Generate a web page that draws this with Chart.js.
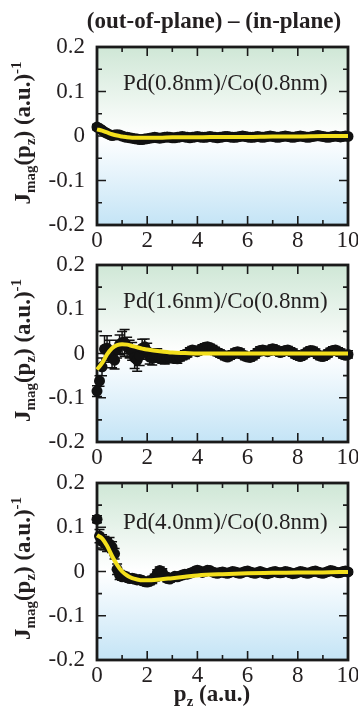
<!DOCTYPE html>
<html><head><meta charset="utf-8">
<script src="https://cdn.jsdelivr.net/npm/chart.js@4.4.1/dist/chart.umd.min.js"></script>
<style>
html,body{margin:0;padding:0;background:#fff;width:358px;height:707px;overflow:hidden}
canvas{position:absolute;left:0}
</style></head><body>
<script>
// ---------- DATA ----------
const pz = [0,0.1,0.2,0.3,0.4,0.5,0.6,0.7,0.8,0.9,1,1.1,1.2,1.3,1.4,1.5,1.6,1.7,1.8,1.9,2,2.1,2.2,2.3,2.4,2.5,2.6,2.7,2.8,2.9,3,3.1,3.2,3.3,3.4,3.5,3.6,3.7,3.8,3.9,4,4.1,4.2,4.3,4.4,4.5,4.6,4.7,4.8,4.9,5,5.1,5.2,5.3,5.4,5.5,5.6,5.7,5.8,5.9,6,6.1,6.2,6.3,6.4,6.5,6.6,6.7,6.8,6.9,7,7.1,7.2,7.3,7.4,7.5,7.6,7.7,7.8,7.9,8,8.1,8.2,8.3,8.4,8.5,8.6,8.7,8.8,8.9,9,9.1,9.2,9.3,9.4,9.5,9.6,9.7,9.8,9.9,10];

const jPd08 = [0.020,0.017,0.013,0.009,0.006,0.003,0.001,0.002,0.003,0.002,0.000,-0.002,-0.003,-0.004,-0.005,-0.006,-0.007,-0.008,-0.008,-0.007,-0.006,-0.005,-0.004,-0.003,-0.004,-0.005,-0.004,-0.003,-0.002,-0.003,-0.004,-0.004,-0.003,-0.002,-0.001,-0.002,-0.003,-0.004,-0.003,-0.002,-0.001,-0.002,-0.003,-0.003,-0.002,-0.001,-0.002,-0.003,-0.004,-0.003,-0.002,-0.001,-0.001,-0.002,-0.003,-0.003,-0.002,-0.001,0.000,-0.001,-0.002,-0.003,-0.003,-0.002,-0.001,-0.002,-0.003,-0.002,-0.001,0.000,-0.001,-0.002,-0.003,-0.002,-0.001,0.000,-0.001,-0.002,-0.003,-0.002,-0.001,0.000,-0.001,-0.002,-0.003,-0.002,-0.001,0.000,0.001,0.000,-0.001,-0.002,-0.003,-0.002,-0.001,0.000,-0.001,-0.002,-0.001,0.000,-0.001];
const ePd08 = [0.006,0.006,0.005,0.005,0.005,0.005,0.005,0.004,0.004,0.004,0.004,0.004,0.004,0.004,0.004,0.004,0.004,0.004,0.004,0.004,0.004,0.004,0.004,0.004,0.004,0.004,0.004,0.004,0.004,0.004,0.004,0.004,0.004,0.004,0.004,0.004,0.004,0.004,0.004,0.004,0.004,0.004,0.004,0.004,0.004,0.004,0.004,0.004,0.004,0.004,0.004,0.004,0.004,0.004,0.004,0.004,0.004,0.004,0.004,0.004,0.004,0.004,0.004,0.004,0.004,0.004,0.004,0.004,0.004,0.004,0.004,0.004,0.004,0.004,0.004,0.004,0.004,0.004,0.004,0.004,0.004,0.004,0.004,0.004,0.004,0.004,0.004,0.004,0.004,0.004,0.004,0.004,0.004,0.004,0.004,0.004,0.004,0.004,0.004,0.004,0.004];

const jPd16 = [-0.085,-0.062,-0.030,0.010,0.012,0.005,-0.010,-0.015,0.010,0.020,0.025,0.024,0.015,0.010,0.005,-0.010,-0.015,-0.005,0.012,0.015,0.005,-0.008,-0.010,-0.005,-0.003,-0.008,-0.010,-0.012,-0.010,-0.008,-0.010,-0.010,-0.012,-0.008,-0.005,-0.003,0.000,0.005,0.008,0.006,0.004,0.008,0.012,0.014,0.015,0.013,0.010,0.006,0.003,0.000,-0.003,-0.006,-0.008,-0.005,-0.002,0.002,0.004,0.002,-0.003,-0.006,-0.008,-0.009,-0.006,-0.002,0.003,0.007,0.008,0.006,0.004,0.008,0.011,0.009,0.005,0.002,0.004,0.007,0.008,0.005,0.002,-0.002,-0.005,-0.007,-0.004,0.000,0.004,0.007,0.006,0.002,-0.003,-0.006,-0.007,-0.004,0.000,0.004,0.007,0.008,0.005,0.002,-0.002,-0.004,-0.002];
const ePd16 = [0.012,0.012,0.020,0.030,0.028,0.025,0.022,0.020,0.020,0.022,0.025,0.030,0.022,0.020,0.020,0.024,0.025,0.022,0.020,0.018,0.018,0.016,0.016,0.014,0.014,0.012,0.012,0.012,0.011,0.011,0.010,0.010,0.010,0.009,0.009,0.009,0.008,0.008,0.008,0.008,0.008,0.008,0.008,0.008,0.008,0.008,0.008,0.008,0.008,0.008,0.008,0.008,0.008,0.008,0.008,0.008,0.008,0.008,0.008,0.008,0.008,0.008,0.008,0.008,0.008,0.008,0.008,0.008,0.008,0.008,0.008,0.008,0.008,0.008,0.008,0.008,0.008,0.008,0.008,0.008,0.008,0.008,0.008,0.008,0.008,0.008,0.008,0.008,0.008,0.008,0.008,0.008,0.008,0.008,0.008,0.008,0.008,0.008,0.008,0.008,0.008];

const jPd40 = [0.118,0.080,0.068,0.064,0.060,0.062,0.055,0.040,0.005,-0.008,-0.012,-0.010,-0.014,-0.016,-0.015,-0.017,-0.019,-0.018,-0.021,-0.023,-0.024,-0.022,-0.019,-0.014,-0.004,0.002,-0.002,-0.010,-0.016,-0.017,-0.014,-0.011,-0.012,-0.010,-0.008,-0.006,-0.006,-0.004,-0.002,0.001,0.003,0.001,-0.002,0.000,0.003,0.002,-0.001,-0.003,-0.004,-0.002,-0.001,-0.003,-0.004,-0.002,0.000,-0.001,-0.003,-0.004,-0.002,0.000,0.001,-0.001,-0.003,-0.004,-0.002,0.000,-0.002,-0.004,-0.005,-0.003,-0.001,0.000,-0.002,-0.003,-0.002,0.000,-0.001,-0.003,-0.005,-0.004,-0.002,0.000,-0.001,-0.003,-0.004,-0.002,0.000,0.001,-0.001,-0.003,-0.004,-0.002,0.000,0.002,0.001,-0.001,-0.003,-0.002,0.000,0.001,-0.001];
const ePd40 = [0.008,0.015,0.015,0.015,0.015,0.015,0.012,0.012,0.012,0.010,0.008,0.008,0.008,0.008,0.008,0.008,0.008,0.008,0.008,0.008,0.008,0.008,0.008,0.008,0.008,0.008,0.008,0.007,0.007,0.007,0.006,0.006,0.006,0.006,0.006,0.005,0.005,0.005,0.005,0.005,0.005,0.005,0.005,0.005,0.005,0.005,0.005,0.005,0.005,0.005,0.005,0.005,0.005,0.005,0.005,0.005,0.005,0.005,0.005,0.005,0.005,0.005,0.005,0.005,0.005,0.005,0.005,0.005,0.005,0.005,0.005,0.005,0.005,0.005,0.005,0.005,0.005,0.005,0.005,0.005,0.005,0.005,0.005,0.005,0.005,0.005,0.005,0.005,0.005,0.005,0.005,0.005,0.005,0.005,0.005,0.005,0.005,0.005,0.005,0.005,0.005];

const fitPz   = [0,0.2,0.4,0.6,0.8,1.0,1.2,1.4,1.6,1.8,2.0,2.5,3,3.5,4,5,6,7,8,9,10];
const fitPd08 = [0.015,0.012,0.008,0.004,0.001,-0.001,-0.003,-0.004,-0.004,-0.004,-0.004,-0.004,-0.003,-0.003,-0.003,-0.002,-0.002,-0.001,-0.001,0.000,0.000];
const fitPd16 = [-0.036,-0.022,-0.002,0.012,0.019,0.021,0.020,0.017,0.014,0.011,0.009,0.005,0.002,0.001,0.000,0.000,0.000,0.000,0.000,0.000,0.000];
const fitPd40 = [0.082,0.075,0.058,0.035,0.015,0.000,-0.009,-0.015,-0.018,-0.020,-0.020,-0.018,-0.015,-0.012,-0.009,-0.006,-0.004,-0.003,-0.002,-0.002,-0.001];

const xTicks = [0,2,4,6,8,10];
const xTickLabels = ['0','2','4','6','8','10'];
const xMinorTicks = [1,3,5,7,9];
const yTicks = [-0.2,-0.1,0,0.1,0.2];
const yTickLabels = ['-0.2','-0.1','0','0.1','0.2'];
const yMinorTicks = [-0.15,-0.05,0.05,0.15];
const sampleLabels = ['Pd(0.8nm)/Co(0.8nm)','Pd(1.6nm)/Co(0.8nm)','Pd(4.0nm)/Co(0.8nm)'];
const mainTitle = '(out-of-plane) \u2013 (in-plane)';

// ---------- DRAWING ----------
const FONT = "'Liberation Serif', 'Times New Roman', serif";
Chart.defaults.font.family = FONT;

const panels = [
  {top:0,   height:250, padTop:47, padBottom:0,  j:jPd08, e:ePd08, fit:fitPd08, label:sampleLabels[0], labelY:0.103, title:true,  xTitle:false},
  {top:250, height:217, padTop:15, padBottom:0,  j:jPd16, e:ePd16, fit:fitPd16, label:sampleLabels[1], labelY:0.103, title:false, xTitle:false},
  {top:467, height:240, padTop:16, padBottom:22, j:jPd40, e:ePd40, fit:fitPd40, label:sampleLabels[2], labelY:0.095, title:false, xTitle:true}
];

function drawParts(ctx, parts, x0, y0, align) {
  let total = 0;
  parts.forEach(p => { ctx.font = p.f; total += ctx.measureText(p.t).width; });
  let x = align === 'center' ? x0 - total/2 : x0;
  parts.forEach(p => { ctx.font = p.f; ctx.fillText(p.t, x, y0 + (p.dy||0)); x += ctx.measureText(p.t).width; });
}

const panelPlugin = {
  id: 'panel',
  beforeDatasetsDraw(chart, args, opts) {
    const {ctx, chartArea: a, scales: {x, y}} = chart;
    const p = opts.panel;
    ctx.save();
    const z = (y.getPixelForValue(0) - a.top) / (a.bottom - a.top);
    const g = ctx.createLinearGradient(0, a.top, 0, a.bottom);
    g.addColorStop(0, '#cfe7d6');
    g.addColorStop(z, '#ffffff');
    g.addColorStop(1, '#c4e4f6');
    ctx.fillStyle = g;
    ctx.fillRect(a.left, a.top, a.right - a.left, a.bottom - a.top);
    // ticks
    ctx.strokeStyle = '#1a1a1a';
    ctx.lineWidth = 1.6;
    ctx.beginPath();
    const tk = (vals, len, horiz) => vals.forEach(v => {
      if (horiz) {
        const px = x.getPixelForValue(v);
        ctx.moveTo(px, a.bottom); ctx.lineTo(px, a.bottom - len);
        ctx.moveTo(px, a.top); ctx.lineTo(px, a.top + len);
      } else {
        const py = y.getPixelForValue(v);
        ctx.moveTo(a.left, py); ctx.lineTo(a.left + len, py);
        ctx.moveTo(a.right, py); ctx.lineTo(a.right - len, py);
      }
    });
    tk(xTicks, 9, true); tk(xMinorTicks, 5, true);
    tk(yTicks, 9, false); tk(yMinorTicks, 5, false);
    ctx.stroke();
    // frame
    ctx.lineWidth = 2.8;
    ctx.strokeRect(a.left, a.top, a.right - a.left, a.bottom - a.top);
    // error bars
    ctx.strokeStyle = '#111';
    ctx.lineWidth = 1.5;
    ctx.beginPath();
    pz.forEach((v, i) => {
      const px = x.getPixelForValue(v);
      const y1 = y.getPixelForValue(p.j[i] + p.e[i]);
      const y2 = y.getPixelForValue(p.j[i] - p.e[i]);
      ctx.moveTo(px, y1); ctx.lineTo(px, y2);
      ctx.moveTo(px - 5, y1); ctx.lineTo(px + 5, y1);
      ctx.moveTo(px - 5, y2); ctx.lineTo(px + 5, y2);
    });
    ctx.stroke();
    ctx.restore();
  },
  afterDraw(chart, args, opts) {
    const {ctx, chartArea: a, scales: {x, y}} = chart;
    const p = opts.panel;
    ctx.save();
    ctx.fillStyle = '#231f20';
    ctx.textBaseline = 'alphabetic';
    // sample label
    ctx.font = '23px ' + FONT;
    ctx.textAlign = 'left';
    ctx.fillText(p.label, x.getPixelForValue(1.04), y.getPixelForValue(p.labelY));
    // y title (rotated)
    ctx.save();
    ctx.translate(30, (a.top + a.bottom) / 2 - 3);
    ctx.rotate(-Math.PI / 2);
    const B = 'bold 23px ' + FONT, S = 'bold 15px ' + FONT;
    drawParts(ctx, [
      {t:'J', f:B}, {t:'mag', f:S, dy:5}, {t:'(p', f:B}, {t:'z', f:S, dy:5},
      {t:') (a.u.)', f:B}, {t:'-1', f:S, dy:-9}
    ], 0, 0, 'center');
    ctx.restore();
    if (p.title) {
      ctx.font = 'bold 23px ' + FONT;
      ctx.textAlign = 'center';
      ctx.fillText(mainTitle, 214, 28);
    }
    if (p.xTitle) {
      drawParts(ctx, [{t:'p', f:B}, {t:'z', f:S, dy:5}, {t:' (a.u.)', f:B}], 212, chart.height - 6, 'center');
    }
    ctx.restore();
  }
};

panels.forEach((p, idx) => {
  const cv = document.createElement('canvas');
  cv.width = 358; cv.height = p.height;
  cv.style.top = p.top + 'px';
  cv.style.width = '358px'; cv.style.height = p.height + 'px';
  document.body.appendChild(cv);
  new Chart(cv, {
    data: {
      datasets: [
        {type:'line', data: fitPz.map((v, i) => ({x:v, y:p.fit[i]})), borderColor:'#f3df1c', borderWidth:4,
         pointRadius:0, cubicInterpolationMode:'monotone', fill:false, clip:false},
        {type:'scatter', data: pz.map((v, i) => ({x:v, y:p.j[i]})), backgroundColor:'#111', borderWidth:0,
         pointRadius:5.5, clip:false}
      ]
    },
    options: {
      responsive:false, animation:false, devicePixelRatio:1,
      layout: {padding: {top:p.padTop, bottom:p.padBottom, left:0, right:10}},
      plugins: {legend:{display:false}, tooltip:{enabled:false}, panel:{panel:p}},
      scales: {
        x: {type:'linear', position:'bottom', min:0, max:10,
            grid:{display:false, drawTicks:false}, border:{display:false},
            afterBuildTicks: s => { s.ticks = xTicks.map(v => ({value:v})); },
            afterFit: s => { s.height = 25; s.paddingLeft = 0; s.paddingRight = 0; },
            ticks:{color:'#231f20', font:{size:23}, padding:2, maxRotation:0, autoSkip:false,
                   callback:(v, i) => xTickLabels[i]}},
        y: {type:'linear', position:'left', min:-0.2, max:0.2,
            grid:{display:false, drawTicks:false}, border:{display:false},
            afterBuildTicks: s => { s.ticks = yTicks.map(v => ({value:v})); },
            afterFit: s => { s.width = 97; s.paddingTop = 0; s.paddingBottom = 0; },
            ticks:{color:'#231f20', font:{size:23}, padding:12, autoSkip:false,
                   callback:(v, i) => yTickLabels[i]}}
      }
    },
    plugins:[panelPlugin]
  });
});
</script>
</body></html>
